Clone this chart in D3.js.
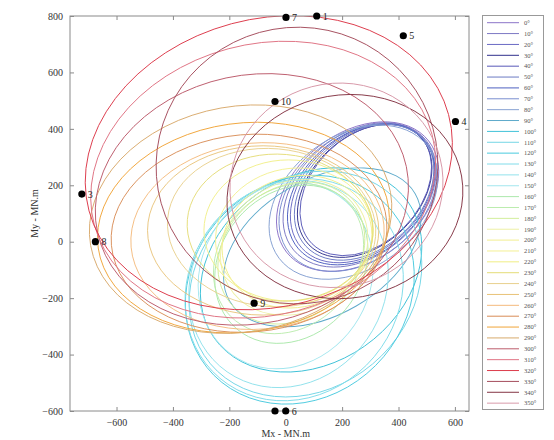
<!DOCTYPE html>
<html>
<head>
<meta charset="utf-8">
<script src="https://cdn.jsdelivr.net/npm/d3@7/dist/d3.min.js"></script>
<style>
  body { margin: 0; background: #fff; }
  text { font-family: "Liberation Serif", "Times New Roman", serif; }
</style>
</head>
<body>
<div id="chart"></div>
<script>
// wave heading for each load ellipse
const headings = [0, 10, 20, 30, 40, 50, 60, 70, 80, 90, 100, 110, 120, 130, 140, 150, 160, 170,
  180, 190, 200, 210, 220, 230, 240, 250, 260, 270, 280, 290, 300, 310, 320, 330, 340, 350];

// ellipse centre, semi axes and tilt (MN.m / degrees)
const centreX = [255, 262, 272, 280, 284, 278, 268, 256, 240, 130, 90, 70, 50, 30, 10, 0, 20, 10,
  20, 30, 40, 30, 10, -20, -50, -80, -100, -130, -150, -160, -120, -80, -60, 40, 210, 180];
const centreY = [160, 166, 172, 180, 184, 176, 168, 156, 140, -20, -100, -150, -170, -170, -150, -120, -80, -60,
  -40, -20, 0, 20, 40, 50, 50, 40, 20, 30, 50, 80, 150, 220, 280, 270, 160, 200];
const semiA = [320, 305, 290, 275, 270, 282, 295, 312, 330, 380, 420, 440, 430, 410, 380, 340, 300, 290,
  280, 270, 270, 280, 300, 330, 370, 410, 450, 490, 520, 540, 560, 620, 660, 500, 420, 380];
const semiB = [225, 215, 205, 192, 190, 200, 210, 222, 235, 240, 330, 370, 380, 370, 340, 300, 250, 240,
  230, 230, 230, 240, 250, 260, 280, 300, 330, 350, 370, 400, 440, 480, 510, 490, 360, 360];
const tilt = [38, 40, 42, 44, 45, 43, 41, 39, 37, 30, 35, 40, 45, 50, 55, 60, 50, 45,
  40, 30, 20, 10, 0, -5, -5, 0, 5, 5, 8, 10, 12, 15, 15, 10, 10, 20];
const lineColors = ["#8c74c8", "#7c78c4", "#6a6ac4", "#30308c", "#5858b8", "#6c7ac4", "#4e60c0", "#7a8ed0", "#88a2d2",
  "#5eaacb", "#40c2d8", "#74d6e6", "#48cade", "#80dcea", "#92e2ec", "#a2e6ee", "#ace8ac", "#bcecae",
  "#d2ee9c", "#eef0a4", "#f2ee90", "#f4f094", "#f0ee84", "#e4dc76", "#e8d08c", "#e8c276",
  "#f4ba7c", "#d88c56", "#f0a438", "#d8aa6c", "#bc5c6c", "#e07484", "#dc3c4c", "#a44c5c", "#843444", "#d89aaa"];

// marked points
const pointLabels = ["1", "", "3", "4", "5", "6", "7", "8", "9", "10"];
const pointX = [110, -38, -723, 602, 417, 0, 1, -675, -112, -38];
const pointY = [800, -600, 169, 426, 730, -600, 795, 0, -218, 497];

const xTicks = [-600, -400, -200, 0, 200, 400, 600];
const yTicks = [-600, -400, -200, 0, 200, 400, 600, 800];

const W = 554, H = 440;
const plot = { left: 70, right: 469, top: 16, bottom: 411 };

const svg = d3.select("#chart").append("svg")
  .attr("width", W)
  .attr("height", H);

const x = d3.scaleLinear().domain([-765, 650]).range([plot.left, plot.right]);
const y = d3.scaleLinear().domain([-600, 800]).range([plot.bottom, plot.top]);

svg.append("defs").append("clipPath").attr("id", "clip")
  .append("rect")
  .attr("x", plot.left).attr("y", plot.top)
  .attr("width", plot.right - plot.left).attr("height", plot.bottom - plot.top);

// ellipses
const curves = svg.append("g").attr("clip-path", "url(#clip)");
headings.forEach((h, i) => {
  const px = x(centreX[i]), py = y(centreY[i]);
  curves.append("ellipse")
    .attr("cx", px)
    .attr("cy", py)
    .attr("rx", x(centreX[i] + semiA[i]) - px)
    .attr("ry", y(centreY[i]) - y(centreY[i] + semiB[i]))
    .attr("transform", `rotate(${-tilt[i]}, ${px}, ${py})`)
    .attr("fill", "none")
    .attr("stroke", lineColors[i])
    .attr("stroke-width", 0.9);
});

// frame + inward ticks on all four sides
const axisColor = "#8a8a8a";
svg.append("rect")
  .attr("x", plot.left).attr("y", plot.top)
  .attr("width", plot.right - plot.left).attr("height", plot.bottom - plot.top)
  .attr("fill", "none").attr("stroke", axisColor).attr("stroke-width", 1);

const styleAxis = g => {
  g.select(".domain").remove();
  g.selectAll(".tick line").attr("stroke", axisColor);
  g.selectAll(".tick text").attr("fill", "#333").attr("font-size", "10px")
    .attr("font-family", "Liberation Serif, serif");
};

svg.append("g").attr("transform", `translate(0,${plot.bottom})`)
  .call(d3.axisBottom(x).tickValues(xTicks).tickSize(-4).tickPadding(8))
  .call(styleAxis);
svg.append("g").attr("transform", `translate(0,${plot.top})`)
  .call(d3.axisTop(x).tickValues(xTicks).tickSize(-4).tickFormat(""))
  .call(styleAxis);
svg.append("g").attr("transform", `translate(${plot.left},0)`)
  .call(d3.axisLeft(y).tickValues(yTicks).tickSize(-4).tickPadding(7))
  .call(styleAxis);
svg.append("g").attr("transform", `translate(${plot.right},0)`)
  .call(d3.axisRight(y).tickValues(yTicks).tickSize(-4).tickFormat(""))
  .call(styleAxis);

// axis titles
svg.append("text")
  .attr("x", x(0)).attr("y", 437)
  .attr("text-anchor", "middle")
  .attr("font-size", "10px").attr("fill", "#333")
  .text("Mx - MN.m");
svg.append("text")
  .attr("transform", `translate(38,${y(100)}) rotate(-90)`)
  .attr("text-anchor", "middle")
  .attr("font-size", "10px").attr("fill", "#333")
  .text("My - MN.m");

// points
const pts = svg.append("g");
pointLabels.forEach((lab, i) => {
  pts.append("circle")
    .attr("cx", x(pointX[i])).attr("cy", y(pointY[i]))
    .attr("r", 3.6).attr("fill", "#000");
  if (lab) {
    pts.append("text")
      .attr("x", x(pointX[i]) + 6).attr("y", y(pointY[i]) + 3.5)
      .attr("font-size", "10px").attr("fill", "#222")
      .text(lab);
  }
});

// legend
const legend = svg.append("g");
const legTop = 22.7, legStep = 10.87;
legend.append("rect")
  .attr("x", 482.5).attr("y", 15.5)
  .attr("width", 61).attr("height", 394)
  .attr("fill", "#fff").attr("stroke", "#999").attr("stroke-width", 1);
headings.forEach((h, i) => {
  const ly = legTop + i * legStep;
  legend.append("line")
    .attr("x1", 487).attr("x2", 519)
    .attr("y1", ly).attr("y2", ly)
    .attr("stroke", lineColors[i]).attr("stroke-width", 1);
  legend.append("text")
    .attr("x", 524).attr("y", ly + 2.3)
    .attr("font-size", "6.5px").attr("fill", "#555")
    .text(h + "°");
});
</script>
</body>
</html>
